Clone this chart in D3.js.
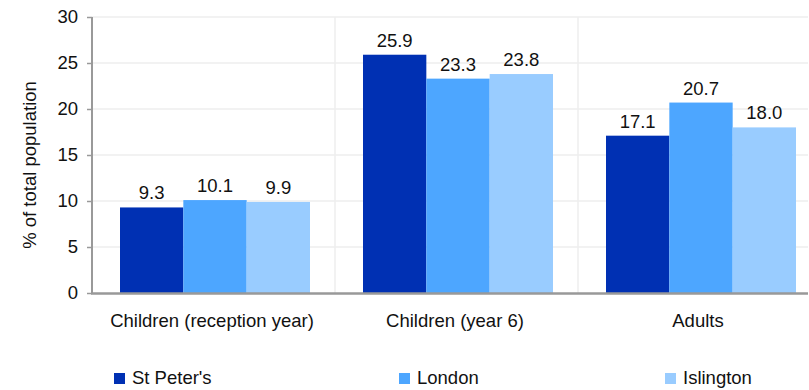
<!DOCTYPE html>
<html>
<head>
<meta charset="utf-8">
<script src="https://cdn.jsdelivr.net/npm/d3@7"></script>
<style>
  body { margin: 0; background: #fff; }
  svg { display: block; font-family: "Liberation Sans", Arial, sans-serif; }
</style>
</head>
<body>
<div id="chart"></div>
<script>
// chart data
const categories = ["Children (reception year)", "Children (year 6)", "Adults"];
const seriesNames = ["St Peter's", "London", "Islington"];
const stPeters = [9.3, 25.9, 17.1];
const london = [10.1, 23.3, 20.7];
const islington = [9.9, 23.8, 18.0];
const yTicks = [0, 5, 10, 15, 20, 25, 30];

const seriesValues = [stPeters, london, islington];
const colors = ["#0030b3", "#4da6ff", "#99ccff"];

const width = 809, height = 390;
const plotLeft = 92, plotTop = 17, plotBottom = 293, plotRight = 808;
const bandW = 243;

const svg = d3.select("#chart").append("svg")
    .attr("width", width)
    .attr("height", height);

const x0 = d3.scaleBand()
    .domain(categories)
    .range([plotLeft, plotLeft + bandW * categories.length])
    .paddingInner(0)
    .paddingOuter(0);

const x1 = d3.scaleBand()
    .domain(seriesNames)
    .range([28, 28 + 190]);

const y = d3.scaleLinear()
    .domain([0, 30])
    .range([plotBottom, plotTop]);

// horizontal gridlines
svg.append("g")
    .selectAll("line")
    .data(yTicks.filter(d => d > 0))
    .enter().append("line")
    .attr("x1", plotLeft).attr("x2", plotRight)
    .attr("y1", d => y(d)).attr("y2", d => y(d))
    .attr("stroke", "#eeeeee")
    .attr("stroke-width", 1.5);

// vertical separators between groups
svg.append("g")
    .selectAll("line")
    .data(categories.slice(1))
    .enter().append("line")
    .attr("x1", d => x0(d)).attr("x2", d => x0(d))
    .attr("y1", plotTop).attr("y2", plotBottom)
    .attr("stroke", "#eeeeee")
    .attr("stroke-width", 1.5);

// bars
const rows = [];
categories.forEach((c, i) => {
    seriesNames.forEach((s, j) => {
        rows.push({ cat: c, name: s, value: seriesValues[j][i], color: colors[j] });
    });
});

svg.append("g")
    .selectAll("rect")
    .data(rows)
    .enter().append("rect")
    .attr("x", d => x0(d.cat) + x1(d.name))
    .attr("y", d => y(d.value))
    .attr("width", x1.bandwidth())
    .attr("height", d => y(0) - y(d.value))
    .attr("fill", d => d.color);

// value labels
svg.append("g")
    .selectAll("text")
    .data(rows)
    .enter().append("text")
    .attr("x", d => x0(d.cat) + x1(d.name) + x1.bandwidth() / 2)
    .attr("y", d => y(d.value) - 8)
    .attr("text-anchor", "middle")
    .attr("font-size", "18.5px")
    .attr("fill", "#111")
    .text(d => d.value.toFixed(1));

// y axis
const yAxis = svg.append("g")
    .attr("transform", `translate(${plotLeft},0)`)
    .call(d3.axisLeft(y).tickValues(yTicks).tickSize(5).tickPadding(9));
yAxis.select(".domain").attr("stroke", "#999").attr("stroke-width", 2)
    .attr("d", `M0,${plotTop}V${plotBottom}`);
yAxis.selectAll(".tick line").attr("stroke", "#999").attr("stroke-width", 1.5);
yAxis.selectAll(".tick text")
    .attr("font-size", "18.5px")
    .attr("font-family", "Liberation Sans, Arial, sans-serif")
    .attr("fill", "#111");

// x axis line
svg.append("line")
    .attr("x1", plotLeft - 1).attr("x2", plotRight)
    .attr("y1", plotBottom + 0.5).attr("y2", plotBottom + 0.5)
    .attr("stroke", "#999")
    .attr("stroke-width", 2.5);

// category labels
svg.append("g")
    .selectAll("text")
    .data(categories)
    .enter().append("text")
    .attr("x", d => x0(d) + 28 + 92)
    .attr("y", 327)
    .attr("text-anchor", "middle")
    .attr("font-size", "18.5px")
    .attr("fill", "#111")
    .text(d => d);

// y axis title
svg.append("text")
    .attr("transform", "translate(36,165) rotate(-90)")
    .attr("text-anchor", "middle")
    .attr("font-size", "18.5px")
    .attr("fill", "#111")
    .text("% of total population");

// legend
const legendX = [114, 399, 665];
const legend = svg.append("g")
    .selectAll("g")
    .data(seriesNames)
    .enter().append("g")
    .attr("transform", (d, i) => `translate(${legendX[i]},0)`);
legend.append("rect")
    .attr("x", 0).attr("y", 373)
    .attr("width", 11).attr("height", 11)
    .attr("fill", (d, i) => colors[i]);
legend.append("text")
    .attr("x", 18).attr("y", 384)
    .attr("font-size", "18.5px")
    .attr("fill", "#111")
    .text(d => d);
</script>
</body>
</html>
